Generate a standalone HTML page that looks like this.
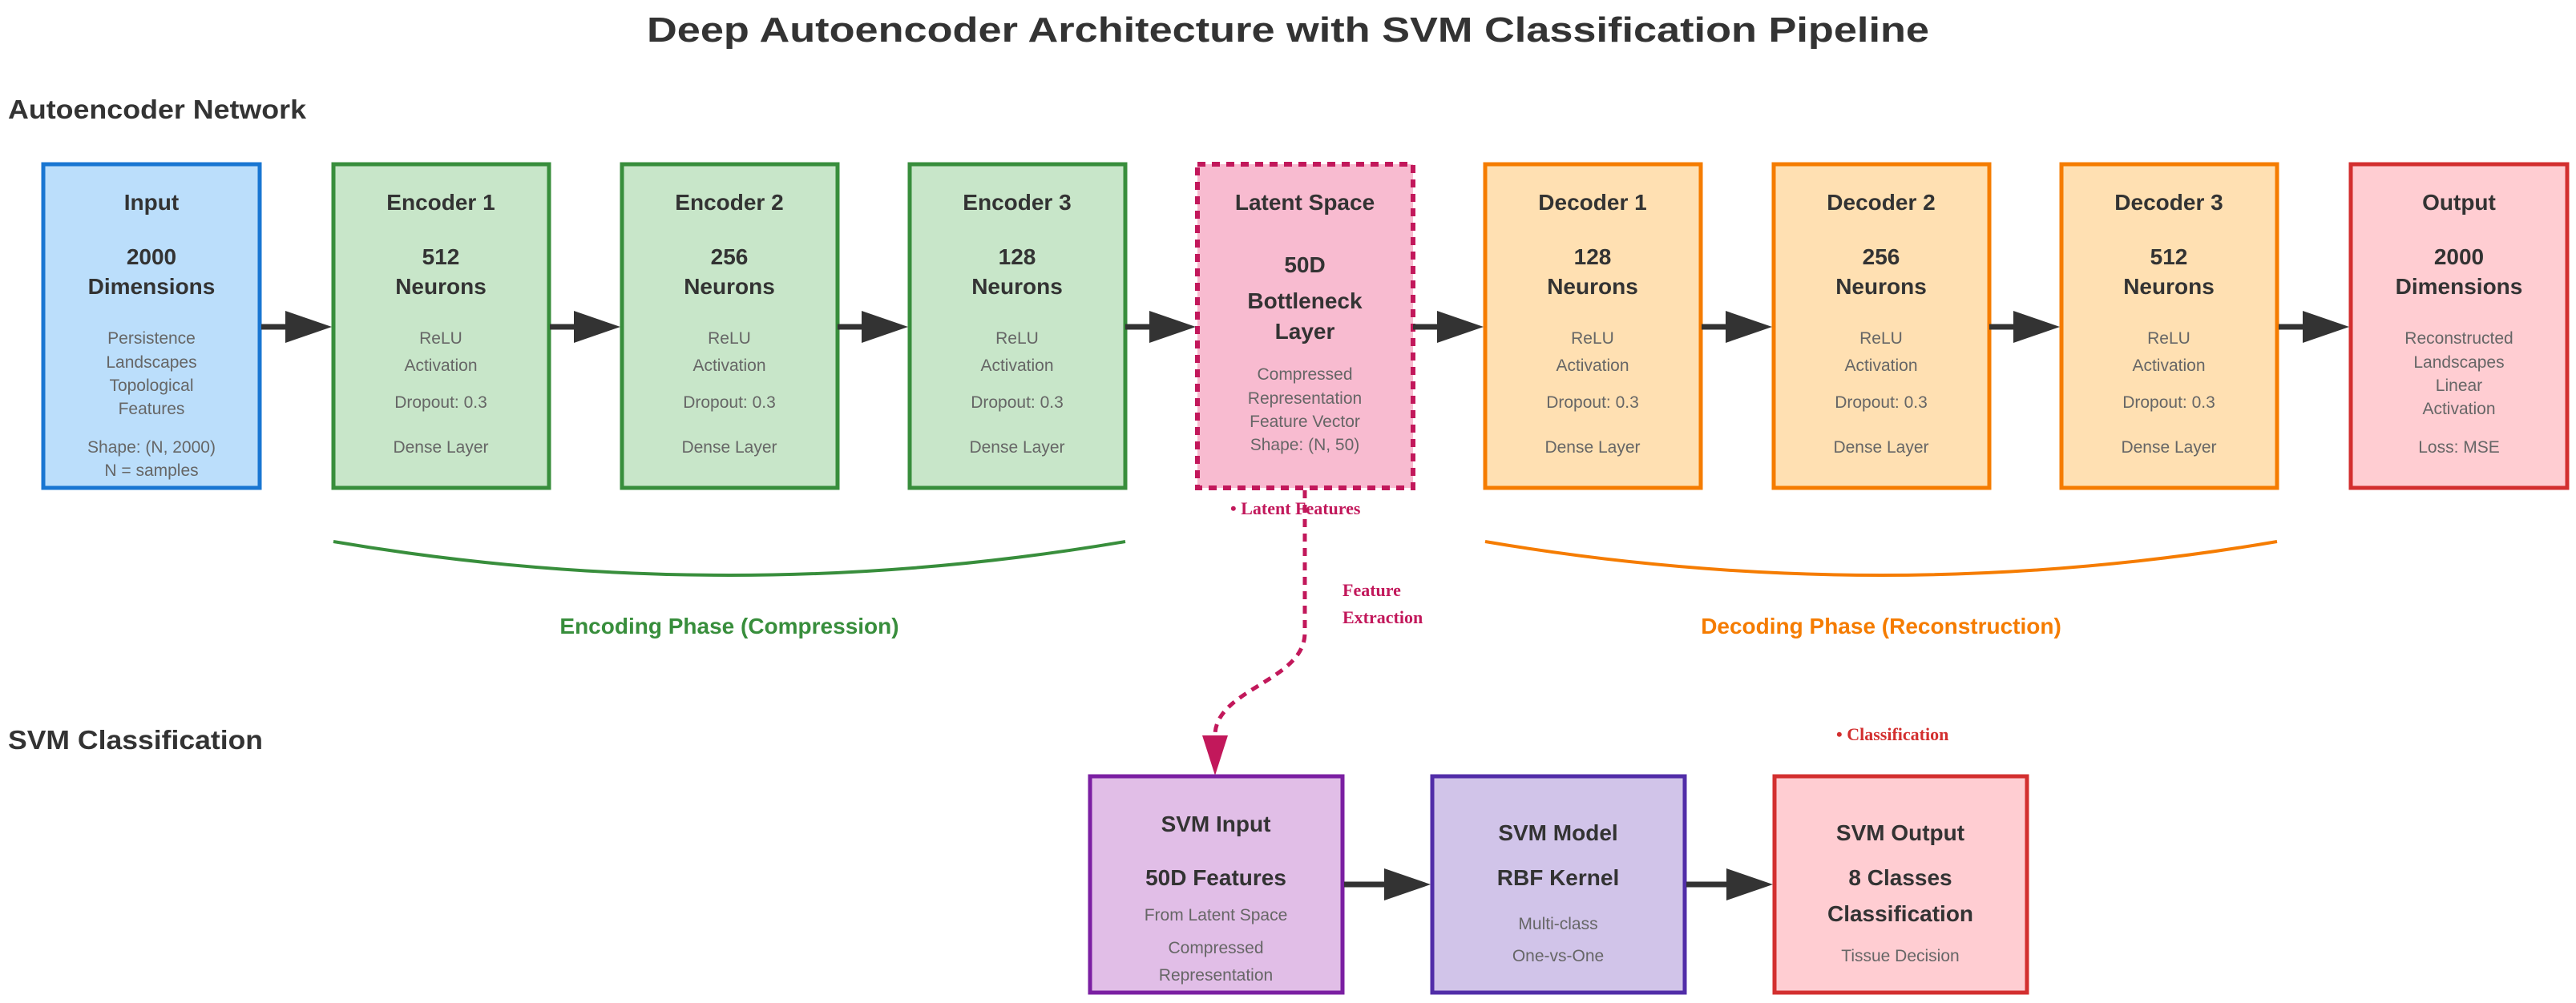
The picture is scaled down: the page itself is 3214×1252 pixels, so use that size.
<!DOCTYPE html>
<html><head><meta charset="utf-8"><style>html,body{margin:0;padding:0;background:#fff}svg{display:block}</style></head><body>
<svg width="3214" height="1252" viewBox="0 0 3214 1252" xmlns="http://www.w3.org/2000/svg" font-family="Liberation Sans, Arial, sans-serif">
<defs>
<g id="arr"><line x1="-20" y1="0" x2="-88" y2="0" stroke="#333" stroke-width="7"/><path d="M0,0 L-58,-20 L-58,20 z" fill="#333"/></g>
</defs>
<text x="1607" y="52" text-anchor="middle" font-size="44" font-weight="bold" fill="#333" textLength="1600" lengthAdjust="spacingAndGlyphs">Deep Autoencoder Architecture with SVM Classification Pipeline</text>
<text x="10" y="148" font-size="33" font-weight="bold" fill="#333" textLength="372" lengthAdjust="spacingAndGlyphs">Autoencoder Network</text>
<text x="10" y="935" font-size="33" font-weight="bold" fill="#333" textLength="318" lengthAdjust="spacingAndGlyphs">SVM Classification</text>

<g stroke-width="5">
<rect x="54" y="205" width="270" height="404" fill="#bbdefb" stroke="#1976d2"/>
<rect x="416" y="205" width="269" height="404" fill="#c8e6c9" stroke="#388e3c"/>
<rect x="776" y="205" width="269" height="404" fill="#c8e6c9" stroke="#388e3c"/>
<rect x="1135" y="205" width="269" height="404" fill="#c8e6c9" stroke="#388e3c"/>
<rect x="1494" y="205" width="269" height="404" fill="#f8bbd0" stroke="#c2185b" stroke-width="6" stroke-dasharray="10,8"/>
<rect x="1853" y="205" width="269" height="404" fill="#ffe0b2" stroke="#f57c00"/>
<rect x="2213" y="205" width="269" height="404" fill="#ffe0b2" stroke="#f57c00"/>
<rect x="2572" y="205" width="269" height="404" fill="#ffe0b2" stroke="#f57c00"/>
<rect x="2933" y="205" width="270" height="404" fill="#ffcdd2" stroke="#d32f2f"/>
</g>

<use href="#arr" x="414" y="408"/>
<use href="#arr" x="774" y="408"/>
<use href="#arr" x="1133" y="408"/>
<use href="#arr" x="1492" y="408"/>
<use href="#arr" x="1851" y="408"/>
<use href="#arr" x="2211" y="408"/>
<use href="#arr" x="2570" y="408"/>
<use href="#arr" x="2931" y="408"/>

<g text-anchor="middle" fill="#333" font-size="28" font-weight="bold">
<text x="189" y="262">Input</text><text x="189" y="330">2000</text><text x="189" y="367">Dimensions</text>
<text x="550" y="262">Encoder 1</text><text x="550" y="330">512</text><text x="550" y="367">Neurons</text>
<text x="910" y="262">Encoder 2</text><text x="910" y="330">256</text><text x="910" y="367">Neurons</text>
<text x="1269" y="262">Encoder 3</text><text x="1269" y="330">128</text><text x="1269" y="367">Neurons</text>
<text x="1628" y="262">Latent Space</text><text x="1628" y="340">50D</text><text x="1628" y="385">Bottleneck</text><text x="1628" y="423">Layer</text>
<text x="1987" y="262">Decoder 1</text><text x="1987" y="330">128</text><text x="1987" y="367">Neurons</text>
<text x="2347" y="262">Decoder 2</text><text x="2347" y="330">256</text><text x="2347" y="367">Neurons</text>
<text x="2706" y="262">Decoder 3</text><text x="2706" y="330">512</text><text x="2706" y="367">Neurons</text>
<text x="3068" y="262">Output</text><text x="3068" y="330">2000</text><text x="3068" y="367">Dimensions</text>
</g>

<g text-anchor="middle" fill="#666" font-size="21">
<text x="189" y="429">Persistence</text><text x="189" y="459">Landscapes</text><text x="189" y="488">Topological</text><text x="189" y="517">Features</text><text x="189" y="565">Shape: (N, 2000)</text><text x="189" y="594">N = samples</text>
<g id="e"><text x="550" y="429">ReLU</text><text x="550" y="463">Activation</text><text x="550" y="509">Dropout: 0.3</text><text x="550" y="565">Dense Layer</text></g>
<use href="#e" x="360"/><use href="#e" x="719"/><use href="#e" x="1437"/><use href="#e" x="1797"/><use href="#e" x="2156"/>
<text x="1628" y="474">Compressed</text><text x="1628" y="504">Representation</text><text x="1628" y="533">Feature Vector</text><text x="1628" y="562">Shape: (N, 50)</text>
<text x="3068" y="429">Reconstructed</text><text x="3068" y="459">Landscapes</text><text x="3068" y="488">Linear</text><text x="3068" y="517">Activation</text><text x="3068" y="565">Loss: MSE</text>
</g>

<path d="M416,676 Q910,760 1404,676" fill="none" stroke="#388e3c" stroke-width="4"/>
<path d="M1853,676 Q2347,760 2841,676" fill="none" stroke="#f57c00" stroke-width="4"/>
<text x="910" y="791" text-anchor="middle" font-size="28" font-weight="bold" fill="#388e3c">Encoding Phase (Compression)</text>
<text x="2347" y="791" text-anchor="middle" font-size="28" font-weight="bold" fill="#f57c00">Decoding Phase (Reconstruction)</text>

<path d="M1628,612 L1628,790 C1628,850 1516,860 1516,918" fill="none" stroke="#c2185b" stroke-width="5" stroke-dasharray="10,8"/>
<path d="M1500,918 L1532,918 L1516,968 z" fill="#c2185b"/>
<g font-family="Liberation Serif, serif" font-weight="bold" font-size="22" fill="#c2185b">
<text x="1535" y="642">• Latent Features</text>
<text x="1675" y="744">Feature</text><text x="1675" y="778">Extraction</text>
</g>
<text x="2291" y="924" font-family="Liberation Serif, serif" font-weight="bold" font-size="22" fill="#d32f2f">• Classification</text>

<g stroke-width="5">
<rect x="1360" y="969" width="315" height="270" fill="#e1bee7" stroke="#7b1fa2"/>
<rect x="1787" y="969" width="315" height="270" fill="#d1c4e9" stroke="#512da8"/>
<rect x="2214" y="969" width="315" height="270" fill="#ffcdd2" stroke="#d32f2f"/>
</g>
<g><line x1="1677" y1="1104" x2="1730" y2="1104" stroke="#333" stroke-width="7"/><path d="M1785,1104 L1727,1084 L1727,1124 z" fill="#333"/></g>
<g><line x1="2104" y1="1104" x2="2157" y2="1104" stroke="#333" stroke-width="7"/><path d="M2212,1104 L2154,1084 L2154,1124 z" fill="#333"/></g>
<g text-anchor="middle" fill="#333" font-size="28" font-weight="bold">
<text x="1517" y="1038">SVM Input</text><text x="1517" y="1105">50D Features</text>
<text x="1944" y="1049">SVM Model</text><text x="1944" y="1105">RBF Kernel</text>
<text x="2371" y="1049">SVM Output</text><text x="2371" y="1105">8 Classes</text><text x="2371" y="1150">Classification</text>
</g>
<g text-anchor="middle" fill="#666" font-size="21">
<text x="1517" y="1149">From Latent Space</text><text x="1517" y="1190">Compressed</text><text x="1517" y="1224">Representation</text>
<text x="1944" y="1160">Multi-class</text><text x="1944" y="1200">One-vs-One</text>
<text x="2371" y="1200">Tissue Decision</text>
</g>
</svg>
</body></html>
